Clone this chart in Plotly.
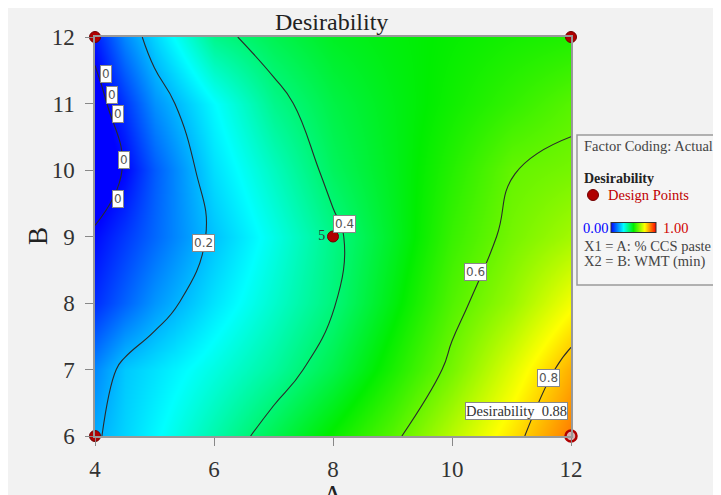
import plotly.graph_objects as go

# ---- data ----
a_vals = [4, 4.5, 5, 6, 7, 8, 9, 10, 11, 12]          # A: % CCS paste
b_vals = [6, 7, 8, 9, 10, 11, 12]                     # B: WMT (min)
desirability = [
    [0.19, 0.233, 0.273, 0.352, 0.430, 0.508, 0.585, 0.680, 0.777, 0.880],  # B=6
    [0.15, 0.220, 0.248, 0.305, 0.364, 0.436, 0.525, 0.615, 0.720, 0.830],  # B=7
    [0.05, 0.108, 0.165, 0.250, 0.323, 0.395, 0.487, 0.580, 0.650, 0.740],  # B=8
    [0.01, 0.062, 0.114, 0.214, 0.300, 0.385, 0.468, 0.555, 0.615, 0.660],  # B=9
    [-0.05, 0.005, 0.100, 0.245, 0.335, 0.420, 0.475, 0.536, 0.598, 0.615], # B=10
    [-0.04, 0.060, 0.160, 0.277, 0.380, 0.440, 0.480, 0.515, 0.550, 0.585], # B=11
    [0.03, 0.150, 0.235, 0.380, 0.430, 0.470, 0.490, 0.505, 0.520, 0.530],  # B=12
]
design_a = [4, 12, 4, 12, 8]
design_b = [12, 12, 6, 6, 9]
design_text = ["", "", "", "", "5"]
contour_levels = [0, 0.8, 0.2]  # start, end, step
contour_labels = [
    (4.185, 11.44, "0"), (4.286, 11.135, "0"), (4.387, 10.835, "0"),
    (4.487, 10.15, "0"), (4.387, 9.56, "0"),
    (5.82, 8.9, "0.2"), (8.2, 9.19, "0.4"), (10.4, 8.47, "0.6"), (11.62, 6.87, "0.8"),
]
optimum = (12, 6, 0.88)

SERIF = "Liberation Serif"
SANS = "DejaVu Sans"
cscale = [[0.0, "rgb(0,0,255)"], [0.28, "rgb(0,255,255)"], [0.5, "rgb(0,238,0)"],
          [0.75, "rgb(255,255,0)"], [1.0, "rgb(255,0,0)"]]

W, H = 721, 495
L, T, PW, PH = 87, 29, 476, 399
R, B = W - L - PW, H - T - PH
OFF = 8  # page body margin


def px(xpage):
    return (xpage - OFF - L) / PW


def py(ypage):
    return (H - B - (ypage - OFF)) / PH


fig = go.Figure()
fig.add_trace(go.Heatmap(
    x=a_vals, y=b_vals, z=desirability, zmin=0, zmax=1, zsmooth="best",
    colorscale=cscale, hoverinfo="skip",
    colorbar=dict(orientation="h", x=px(633.5), y=py(228), xanchor="center", yanchor="middle",
                  len=45, lenmode="pixels", thickness=10, thicknessmode="pixels",
                  showticklabels=False, ticks="", outlinecolor="#333", outlinewidth=1,
                  xpad=0, ypad=0),
))
fig.add_trace(go.Contour(
    x=a_vals, y=b_vals, z=desirability, autocontour=False,
    contours=dict(start=contour_levels[0], end=contour_levels[1], size=contour_levels[2],
                  coloring="none"),
    line=dict(color="#2a2a2a", width=1.1, smoothing=1.3), showscale=False, hoverinfo="skip",
))
fig.add_trace(go.Scatter(
    x=design_a, y=design_b, mode="markers+text", text=design_text,
    textposition="middle left", textfont=dict(family=SERIF, size=14, color="#333"),
    marker=dict(size=11, color=["#b00000", "#b00000", "#b00000", "#d8b0b0", "#b00000"],
                line=dict(color=["#700000", "#700000", "#700000", "#b00000", "#700000"],
                          width=[1, 1, 1, 2.5, 1])),
    cliponaxis=False, showlegend=False, hoverinfo="skip",
))

annotations = []
for (xa, yb, t) in contour_labels:
    annotations.append(dict(x=xa, y=yb, text=t, showarrow=False,
                            font=dict(family=SANS, size=12, color="#555"),
                            bgcolor="white", bordercolor="#888", borderwidth=1, borderpad=1))
annotations.append(dict(x=optimum[0], y=optimum[1], text="Desirability  %.2f" % optimum[2],
                        showarrow=False, xanchor="right", yanchor="bottom", xshift=-3, yshift=16,
                        font=dict(family=SERIF, size=14.5, color="#333"),
                        bgcolor="white", bordercolor="#888", borderwidth=1, borderpad=0))
# titles
annotations += [
    dict(x=px(331), y=py(22), xref="paper", yref="paper", text="Desirability", showarrow=False,
         font=dict(family=SERIF, size=24, color="#222"), yanchor="middle"),
    dict(x=px(21), y=py(236), xref="paper", yref="paper", text="B", showarrow=False,
         textangle=-90, font=dict(family=SERIF, size=27, color="#222")),
    dict(x=px(333), y=py(478), xref="paper", yref="paper", text="A", showarrow=False,
         yanchor="top", font=dict(family=SERIF, size=27, color="#222")),
]
# legend box texts
leg = [
    (582, 146, "Factor Coding: Actual", "#444", 14.5),
    (582, 178, "<b>Desirability</b>", "#222", 14),
    (606, 195, "Design Points", "#c00000", 14.5),
    (581, 228, "0.00", "#0000ff", 14.5),
    (661, 228, "1.00", "#d00000", 14.5),
    (582, 246, "X1 = A: % CCS paste", "#444", 14.5),
    (582, 261, "X2 = B: WMT (min)", "#444", 14.5),
]
for (xp, yp, t, c, s) in leg:
    annotations.append(dict(x=px(xp), y=py(yp), xref="paper", yref="paper", text=t,
                            showarrow=False, xanchor="left", yanchor="middle",
                            font=dict(family=SERIF, size=s, color=c)))

shapes = [
    dict(type="rect", xref="paper", yref="paper", x0=px(577), x1=px(740), y0=py(285), y1=py(135),
         fillcolor="#f5f5f5", line=dict(color="#9a9a9a", width=1.5), layer="below"),
    dict(type="circle", xref="paper", yref="paper", x0=px(587.5), x1=px(598.5),
         y0=py(200.5), y1=py(189.5), fillcolor="#b00000", line=dict(color="#700000", width=1)),
]

axis_common = dict(showgrid=False, zeroline=False, showline=True, linecolor="#999",
                   linewidth=1.5, mirror=True, ticks="outside", ticklen=8, tickcolor="#888",
                   tickfont=dict(family=SERIF, size=23, color="#333"))
fig.update_layout(
    width=W, height=H, margin=dict(l=L, r=R, t=T, b=B),
    paper_bgcolor="#f2f2f2", plot_bgcolor="#f2f2f2", showlegend=False,
    xaxis=dict(range=[4, 12], tickvals=[4, 6, 8, 10, 12], ticklabelstandoff=4, **axis_common),
    yaxis=dict(range=[6, 12], tickvals=[6, 7, 8, 9, 10, 11, 12], ticklabelstandoff=6,
               **axis_common),
    annotations=annotations, shapes=shapes,
)
fig.write_html("out.html")
